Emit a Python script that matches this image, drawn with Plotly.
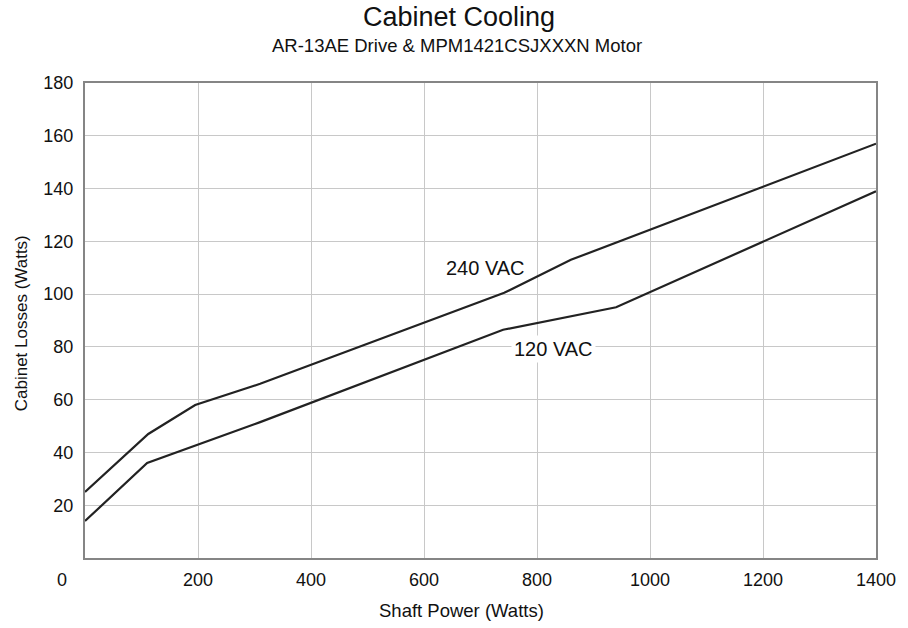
import plotly.graph_objects as go

# Data
shaft_power_240 = [0, 112, 195, 310, 742, 860, 1400]
losses_240 = [25, 47, 58, 66, 100.5, 113, 157]

shaft_power_120 = [0, 110, 310, 740, 940, 1400]
losses_120 = [14, 36, 51.5, 86.5, 95, 139]

x_ticks = [200, 400, 600, 800, 1000, 1200, 1400]
y_ticks = [20, 40, 60, 80, 100, 120, 140, 160, 180]

FONT = "Liberation Sans, Arial, sans-serif"
LINE_COLOR = "#222222"
TXT = "#111111"

fig = go.Figure()
fig.add_trace(go.Scatter(x=shaft_power_240, y=losses_240, mode="lines",
                         line=dict(color=LINE_COLOR, width=2.2), name="240 VAC",
                         showlegend=False, hoverinfo="skip"))
fig.add_trace(go.Scatter(x=shaft_power_120, y=losses_120, mode="lines",
                         line=dict(color=LINE_COLOR, width=2.2), name="120 VAC",
                         showlegend=False, hoverinfo="skip"))

fig.update_layout(
    width=908, height=628,
    margin=dict(l=85, r=25, t=83, b=70),
    paper_bgcolor="white", plot_bgcolor="white",
    font=dict(family=FONT, color=TXT),
    xaxis=dict(range=[0, 1400], tickvals=x_ticks, ticktext=[str(v) for v in x_ticks],
               showgrid=True, gridcolor="#c8c8c8", gridwidth=1,
               showline=True, linecolor="#858585", linewidth=2, mirror=True,
               zeroline=False, tickfont=dict(size=18, family=FONT, color=TXT),
               ticks="", ticklabelstandoff=4, fixedrange=True),
    yaxis=dict(range=[0, 180], tickvals=y_ticks, ticktext=[str(v) for v in y_ticks],
               showgrid=True, gridcolor="#c8c8c8", gridwidth=1,
               showline=True, linecolor="#858585", linewidth=2, mirror=True,
               zeroline=False, tickfont=dict(size=18, family=FONT, color=TXT),
               ticks="", ticklabelstandoff=6, fixedrange=True),
    annotations=[
        dict(text="Cabinet Cooling", xref="paper", yref="paper", x=0.4726, y=1.1385,
             showarrow=False, font=dict(size=27, family=FONT, color=TXT),
             xanchor="center", yanchor="middle"),
        dict(text="AR-13AE Drive & MPM1421CSJXXXN Motor", xref="paper", yref="paper",
             x=0.470, y=1.079, showarrow=False,
             font=dict(size=18.5, family=FONT, color=TXT),
             xanchor="center", yanchor="middle"),
        dict(text="Shaft Power (Watts)", xref="paper", yref="paper", x=0.4764, y=-0.1115,
             showarrow=False, font=dict(size=18.5, family=FONT, color=TXT),
             xanchor="center", yanchor="middle"),
        dict(text="Cabinet Losses (Watts)", xref="paper", yref="paper", x=-0.081, y=0.494,
             textangle=-90, showarrow=False,
             font=dict(size=17, family=FONT, color=TXT),
             xanchor="center", yanchor="middle"),
        dict(text="0", xref="paper", yref="paper", x=-0.0288, y=-0.0463, showarrow=False,
             font=dict(size=18, family=FONT, color=TXT),
             xanchor="center", yanchor="middle"),
        dict(text="240 VAC", xref="x", yref="y", x=708, y=110, showarrow=False,
             font=dict(size=20, family=FONT, color=TXT),
             xanchor="center", yanchor="middle"),
        dict(text="120 VAC", xref="x", yref="y", x=830, y=79.2, showarrow=False,
             bgcolor="white", borderpad=2,
             font=dict(size=20, family=FONT, color=TXT),
             xanchor="center", yanchor="middle"),
    ],
)

fig.write_html("out.html", config={"displayModeBar": False},
               post_script="document.body.style.margin='0';document.body.style.overflow='hidden';")
